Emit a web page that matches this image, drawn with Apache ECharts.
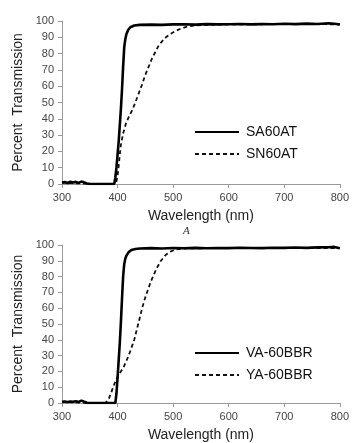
<!DOCTYPE html>
<html>
<head>
<meta charset="utf-8">
<script src="https://cdn.jsdelivr.net/npm/echarts@6/dist/echarts.min.js"></script>
<style>
  html, body { margin: 0; padding: 0; background: #fff; }
  #chart { width: 352px; height: 443px; }
</style>
</head>
<body>
<div id="chart"></div>
<script>
// panel A (top)
const saWl = [300, 305, 310, 315, 320, 325, 330, 335, 340, 345, 350, 360, 370, 380, 390, 394, 396, 398, 400, 402, 404, 406, 408, 410, 412, 414, 416, 419, 423, 430, 440, 460, 480, 500, 520, 540, 560, 580, 600, 620, 640, 660, 680, 700, 720, 740, 760, 780, 790, 800];
const saT  = [0.8, 1.2, 0.6, 1.4, 0.9, 1.3, 0.7, 1.5, 0.9, 0.3, 0.1, 0, 0, 0, 0, 0, 4, 10, 18, 26, 36, 46, 58, 72, 84, 89, 92, 94.5, 96.2, 97.2, 97.6, 97.8, 97.6, 97.9, 98.0, 97.8, 98.1, 97.9, 98.0, 98.2, 97.9, 98.1, 98.0, 98.3, 98.1, 98.4, 98.2, 98.6, 98.3, 97.8];
const snWl = [300, 350, 397, 400, 402, 404, 406, 410, 415, 420, 426, 432, 438, 444, 450, 456, 462, 468, 474, 480, 487, 495, 505, 515, 525, 540, 560, 600, 700, 800];
const snT  = [0.8, 0.1, 0, 5, 11, 18, 24, 31, 37, 41, 45, 50, 55.5, 61, 67, 72, 77, 81, 85, 87.5, 90, 92, 94, 95.5, 96.5, 97.3, 97.7, 97.9, 98.1, 98.0];

// panel B (bottom)
const vaWl = [300, 305, 310, 315, 320, 325, 330, 335, 340, 345, 350, 360, 370, 380, 390, 396, 398, 400, 402, 404, 406, 408, 410, 412, 414, 416, 420, 425, 432, 440, 460, 480, 500, 520, 540, 560, 580, 600, 620, 640, 660, 680, 700, 720, 740, 760, 780, 790, 800];
const vaT  = [0.7, 1.0, 0.6, 0.9, 0.8, 1.1, 0.7, 1.5, 0.8, 0.2, 0, 0, 0, 0, 0, 0, 6, 16, 27, 38, 51, 66, 80, 88, 91.5, 93.3, 95.5, 96.8, 97.5, 97.8, 98.0, 97.8, 98.1, 97.9, 98.2, 97.9, 98.1, 98.0, 98.3, 98.1, 98.0, 98.3, 98.2, 98.4, 98.2, 98.5, 98.6, 98.8, 97.9];
const yaWl = [300, 350, 378, 381, 384, 388, 392, 396, 400, 405, 410, 415, 420, 425, 430, 435, 440, 445, 450, 455, 460, 465, 470, 478, 486, 495, 505, 520, 560, 600, 700, 800];
const yaT  = [0.7, 0, 0, 1, 2.5, 6, 10, 13.5, 16.5, 19.5, 22, 26, 30, 35, 40, 47, 54, 61, 67, 72, 77, 81, 85, 90, 93.5, 95.8, 97.2, 97.8, 98.0, 98.1, 98.2, 98.0];

const xTicks = [300, 400, 500, 600, 700, 800];

const pairs = (xs, ys) => xs.map((x, i) => [x, ys[i]]);
const font = 'Liberation Sans';

function xAxis(gridIndex) {
  return {
    type: 'value', gridIndex, min: xTicks[0], max: xTicks[xTicks.length - 1], interval: 100,
    name: 'Wavelength (nm)', nameLocation: 'middle', nameGap: 25,
    nameTextStyle: { fontFamily: font, fontSize: 14, color: '#222' },
    axisLine: { lineStyle: { color: '#999', width: 1 } },
    axisTick: { show: true, length: 4, lineStyle: { color: '#999' } },
    axisLabel: { fontFamily: font, fontSize: 11, color: '#444', margin: 8 },
    splitLine: { show: false }
  };
}
function yAxis(gridIndex) {
  return {
    type: 'value', gridIndex, min: 0, max: 100, interval: 10,
    name: 'Percent  Transmission', nameLocation: 'middle', nameGap: 37, nameRotate: 90,
    nameTextStyle: { fontFamily: font, fontSize: 14, color: '#222' },
    axisLine: { show: true, lineStyle: { color: '#999', width: 1 } },
    axisTick: { show: true, length: 4, lineStyle: { color: '#999' } },
    axisLabel: { fontFamily: font, fontSize: 11, color: '#444', margin: 8 },
    splitLine: { show: false }
  };
}
function line(name, data, idx, dashed) {
  return {
    name, type: 'line', xAxisIndex: idx, yAxisIndex: idx, data,
    showSymbol: false, symbol: 'none', smooth: false,
    lineStyle: dashed ? { color: '#111', width: 1.8, type: [4, 3] } : { color: '#000', width: 2.6 },
    itemStyle: { color: '#000' },
    z: dashed ? 2 : 3
  };
}
function legend(names, top) {
  return {
    data: names, orient: 'vertical', left: 194, top, itemWidth: 44, itemHeight: 14, itemGap: 8,
    itemStyle: { opacity: 0 },
    textStyle: { fontFamily: font, fontSize: 14, color: '#111', padding: [0, 0, 0, 2] },
    padding: 0, selectedMode: false
  };
}

const chart = echarts.init(document.getElementById('chart'));
chart.setOption({
  animation: false,
  backgroundColor: '#fff',
  title: {
    text: 'A', left: 178, top: 221,
    textStyle: { fontFamily: 'Liberation Serif', fontStyle: 'italic', fontWeight: 'normal', fontSize: 11, color: '#333' }
  },
  grid: [
    { left: 62, right: 6, top: 21, height: 163 },
    { left: 62, right: 6, top: 245, height: 164 }
  ],
  xAxis: [xAxis(0), xAxis(1)],
  yAxis: [yAxis(0), yAxis(1)],
  legend: [legend(['SA60AT', 'SN60AT'], 125), legend(['VA-60BBR', 'YA-60BBR'], 346)],
  series: [
    line('SA60AT', pairs(saWl, saT), 0, false),
    line('SN60AT', pairs(snWl, snT), 0, true),
    line('VA-60BBR', pairs(vaWl, vaT), 1, false),
    line('YA-60BBR', pairs(yaWl, yaT), 1, true)
  ]
});
</script>
</body>
</html>
